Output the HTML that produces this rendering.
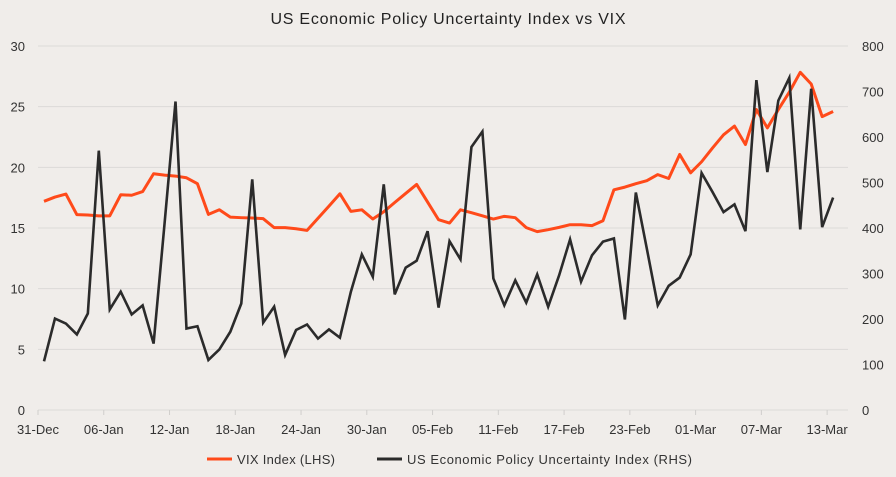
<!DOCTYPE html>
<html><head><meta charset="utf-8"><style>
html,body{margin:0;padding:0;background:#f0edea;}
svg{display:block;font-family:"Liberation Sans",sans-serif;}
</style></head><body>
<svg id="chart" width="896" height="477">
<text x="448" y="24" text-anchor="middle" font-size="16" textLength="355" lengthAdjust="spacing" fill="#222">US Economic Policy Uncertainty Index vs VIX</text>
<g id="grid"></g>
<g id="axes"></g>
<g id="series"></g>
<g>
<g><line x1="207" y1="459" x2="232" y2="459" stroke="#ff4a1a" stroke-width="3"/><text x="237" y="464" font-size="13" textLength="98" lengthAdjust="spacing" fill="#333">VIX Index  (LHS)</text></g>
<g><line x1="377" y1="459" x2="402" y2="459" stroke="#2b2b2b" stroke-width="3"/><text x="407" y="464" font-size="13" textLength="285" lengthAdjust="spacing" fill="#333">US Economic Policy Uncertainty Index  (RHS)</text></g>
</g>
</svg>
<script>
const tickLabels = ["31-Dec","06-Jan","12-Jan","18-Jan","24-Jan","30-Jan","05-Feb","11-Feb","17-Feb","23-Feb","01-Mar","07-Mar","13-Mar"];
const leftTicks = [0,5,10,15,20,25,30];
const rightTicks = [0,100,200,300,400,500,600,700,800];
const vix = [17.2,17.55,17.8,16.1,16.07,16.0,16.0,17.74,17.7,18.0,19.47,19.36,19.28,19.14,18.65,16.12,16.5,15.9,15.85,15.82,15.77,15.03,15.03,14.94,14.8,15.8,16.8,17.82,16.37,16.5,15.74,16.34,17.1,17.85,18.59,17.14,15.68,15.41,16.5,16.26,16.0,15.74,15.96,15.85,15.03,14.7,14.86,15.05,15.27,15.27,15.2,15.6,18.15,18.37,18.65,18.9,19.4,19.08,21.06,19.55,20.46,21.6,22.68,23.4,21.88,24.76,23.25,24.76,26.19,27.83,26.87,24.18,24.6];
const epu = [107,201,190,166,212,570,221,260,210,230,146,410,678,179,184,110,133,172,234,507,192,227,121,176,188,157,177,159,260,342,293,496,254,313,328,393,225,371,331,578,612,289,230,285,236,298,227,296,375,282,340,370,377,199,478,355,230,273,291,342,521,479,435,452,393,725,523,680,730,397,706,402,467];

const NS="http://www.w3.org/2000/svg";
const X0=38, X1=848, Y0=410, Y1=46, STEP=10.96, OFF=6;
const xTick = i => X0 + i*6*STEP;
const xPt = i => X0 + OFF + i*STEP;
const yL = v => Y0 - (v/30)*(Y0-Y1);
const yR = v => Y0 - (v/800)*(Y0-Y1);
function mk(tag, attrs, parent){const e=document.createElementNS(NS,tag);for(const k in attrs)e.setAttribute(k,attrs[k]);parent.appendChild(e);return e;}
const grid=document.getElementById('grid'), axes=document.getElementById('axes'), series=document.getElementById('series');
leftTicks.forEach(v=>{
  const l=mk('line',{x1:X0,x2:X1,y1:yL(v),y2:yL(v),stroke:'#dcdad8','stroke-width':1},grid);
  
  
  const t=mk('text',{x:25,y:yL(v)+5,'text-anchor':'end','font-size':13,fill:'#333'},axes);
  t.textContent=v;
  
  
});
rightTicks.forEach(v=>{
  const t=mk('text',{x:862,y:yR(v)+5,'text-anchor':'start','font-size':13,fill:'#333'},axes);
  t.textContent=v;
  
  
});
tickLabels.forEach((s,i)=>{
  const tk=mk('line',{x1:xTick(i),x2:xTick(i),y1:Y0,y2:Y0+5,stroke:'#d0cecc'},axes);
  
  
  const t=mk('text',{x:xTick(i),y:Y0+24,'text-anchor':'middle','font-size':13,fill:'#333'},axes);
  t.textContent=s;
  
  
});
const pv=mk('polyline',{points:vix.map((v,i)=>xPt(i)+','+yL(v)).join(' '),fill:'none',stroke:'#ff4a1a','stroke-width':3,'stroke-linejoin':'round'},series);


const pe=mk('polyline',{points:epu.map((v,i)=>xPt(i)+','+yR(v)).join(' '),fill:'none',stroke:'#2b2b2b','stroke-width':2.6,'stroke-linejoin':'miter'},series);


</script>
</body></html>
